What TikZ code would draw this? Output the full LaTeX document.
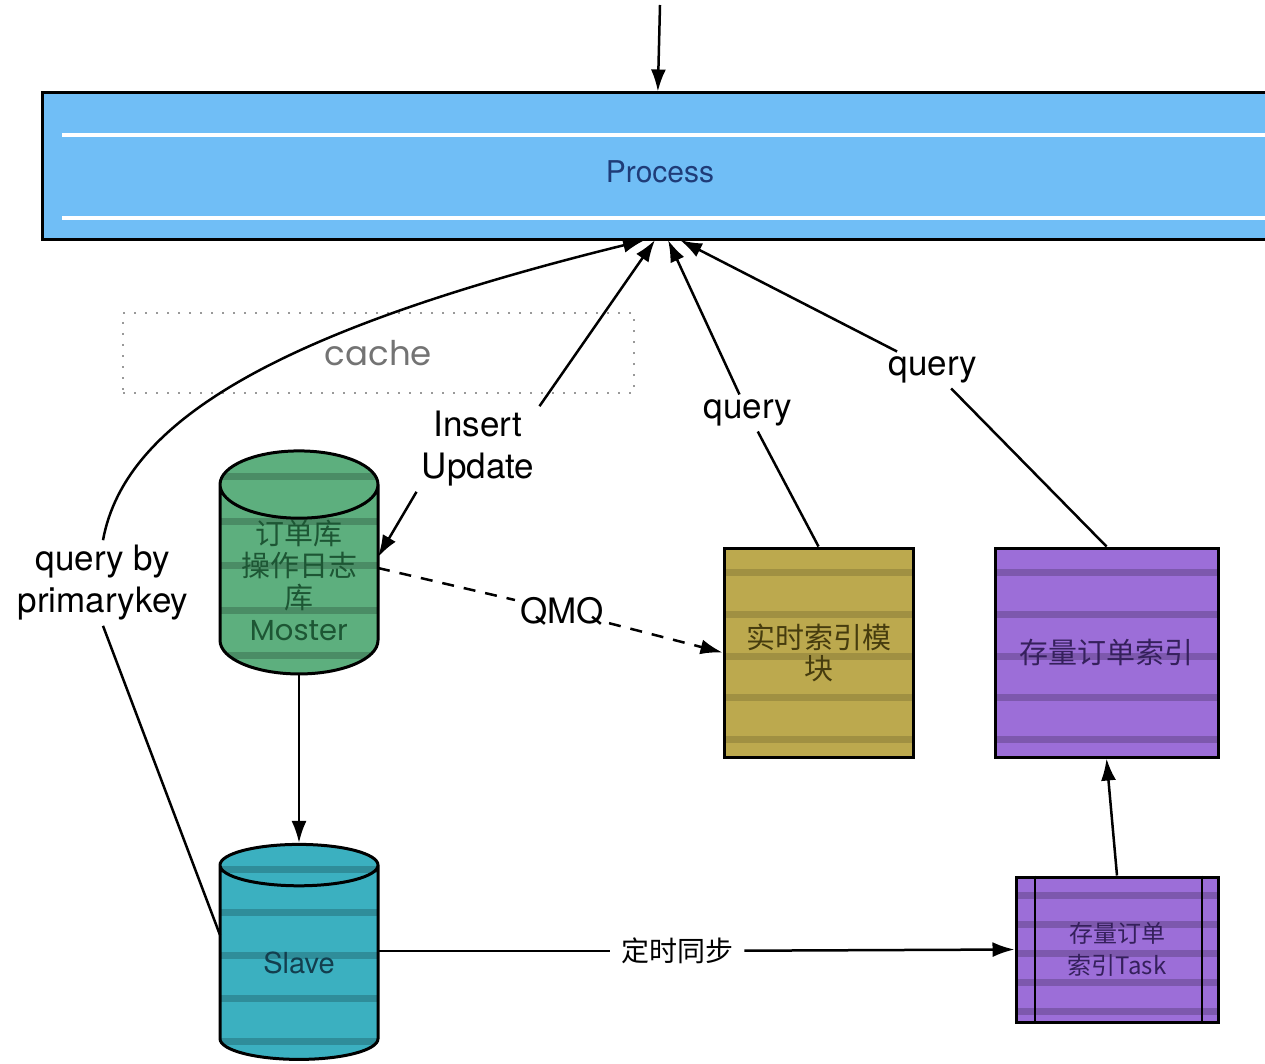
\documentclass[tikz,border=0pt]{standalone}
\usepackage{fontspec}
\setmainfont{TeX Gyre Heros}
\newfontfamily\cjk{Noto Sans CJK SC}
\newfontfamily\geo{Poppins}
\usetikzlibrary{shapes.geometric,arrows.meta,calc}
\definecolor{procblue}{HTML}{70BEF6}
\definecolor{procink}{HTML}{1F3C78}
\definecolor{mastergreen}{HTML}{5DAF7E}
\definecolor{masterink}{HTML}{1D5634}
\definecolor{slaveteal}{HTML}{3BB0C0}
\definecolor{slaveink}{HTML}{133E4E}
\definecolor{olive}{HTML}{BCA94E}
\definecolor{oliveink}{HTML}{463C0E}
\definecolor{lilac}{HTML}{9C6ED8}
\definecolor{lilacink}{HTML}{35205C}

\begin{document}
\begin{tikzpicture}[x=1pt,y=-1pt,line width=2.5pt,
	>={Latex[length=22pt,width=15pt]},
	lbl/.style={font=\fontsize{35}{42}\selectfont,align=center,inner sep=4pt},
	stripes/.style={path picture={
		\foreach \f in {0.1,0.3,...,0.9}
			\fill[#1] ($(path picture bounding box.north west)!\f!(path picture bounding box.south west)$) rectangle ++(1300pt,-7pt);
	}},
	box/.style={draw,line width=3pt,inner sep=0pt,align=center},
	db/.style={cylinder,shape border rotate=90,draw,line width=3pt,aspect=0.58,
		minimum width=158pt,minimum height=215pt,inner sep=0pt,align=center,
		cylinder uses custom fill,cylinder body fill=#1,cylinder end fill=#1}]
	\useasboundingbox (0,0) rectangle (1265,1064);
	\clip (0,0) rectangle (1265,1064);

	\node [box,fill=procblue,minimum width=1228pt,minimum height=147pt,
		path picture={
			\foreach \f in {0.27,0.84}
				\fill[white] ($(path picture bounding box.north west)!\f!(path picture bounding box.south west)$) ++(20pt,0) rectangle ++(1300pt,-4pt);
		}] at (656,166.5) (process) {};
	\node [text=procink,font=\fontsize{30}{36}\selectfont] at (660,172) (process text) {Process};
	\coordinate (in) at (660,5);
	\foreach [count=\n] \x in {645,655,668,680}{
		\coordinate (p\n) at (\x,240);
	}

	\node [draw=gray!80,line width=2.2pt,dash pattern=on 2pt off 9pt,minimum width=511pt,minimum height=80pt,
		text=gray!90!black,font=\geo\fontsize{34}{40}\selectfont] at (378.5,353) (cache) {cache};

	\node [db=mastergreen,stripes=mastergreen!80!black,text=masterink,
		font=\cjk\fontsize{29}{32}\selectfont] at (299,580) (master) {订单库\\操作日志\\库\\{\geo Moster}};
	\node [db=slaveteal,stripes=slaveteal!80!black,text=slaveink,
		font=\fontsize{29}{34}\selectfont] at (299,963) (slave) {Slave};

	\node [box,fill=olive,stripes=olive!85!black,minimum width=189pt,minimum height=209pt,
		text=oliveink,font=\cjk\fontsize{29}{31}\selectfont] at (818.5,652.5) (realtime) {实时索引模\\块};
	\node [box,fill=lilac,stripes=lilac!80!black,minimum width=223pt,minimum height=209pt,
		text=lilacink,font=\cjk\fontsize{29}{31}\selectfont] at (1106.5,652.5) (stock) {存量订单索引};
	\node [box,fill=lilac,stripes=lilac!80!black,minimum width=202pt,minimum height=145pt,
		text=lilacink,font=\cjk\fontsize{24}{32}\selectfont] at (1117,949.5) (task) {存量订单\\索引Task};
	\draw [line width=2pt] ([xshift=20pt]task.north west) -- ([xshift=20pt]task.south west);
	\draw [line width=2pt] ([xshift=-18pt]task.north east) -- ([xshift=-18pt]task.south east);

	\node [lbl] at (103,583) (primary) {query by\\primarykey};
	\node [lbl] at (478,449) (write) {Insert\\Update};
	\node [lbl] at (748,413) (query rt) {query};
	\node [lbl] at (933,370) (query stock) {query};
	\node [lbl] at (562,611) (qmq) {QMQ};
	\node [lbl,font=\cjk\fontsize{28}{34}\selectfont,inner sep=10pt] at (677,951) (sync) {定时同步};

	\draw [->] (in) -- (process);

	\draw (220,935) -- (primary.south);
	\draw [->] (primary.north) .. controls (125,420) and (280,330) .. (p1);

	\draw [->] (write.south west) -- (378,557);
	\draw [->] (write.north east) -- (p2);

	\draw (realtime.north) -- (query rt);
	\draw [->] (query rt) -- (p3);

	\draw (stock.north) -- (query stock);
	\draw [->] (query stock) -- (p4);

	\draw [dash pattern=on 12pt off 10pt] (378,568) -- (qmq);
	\draw [dash pattern=on 12pt off 10pt,->] (qmq) -- (realtime.west);

	\draw [->] (master.south) -- (slave.north);

	\draw (378,951) -- (sync);
	\draw [->] (sync) -- (task.west);

	\draw [->] (task.north) -- (stock.south);

\end{tikzpicture}
\end{document}
